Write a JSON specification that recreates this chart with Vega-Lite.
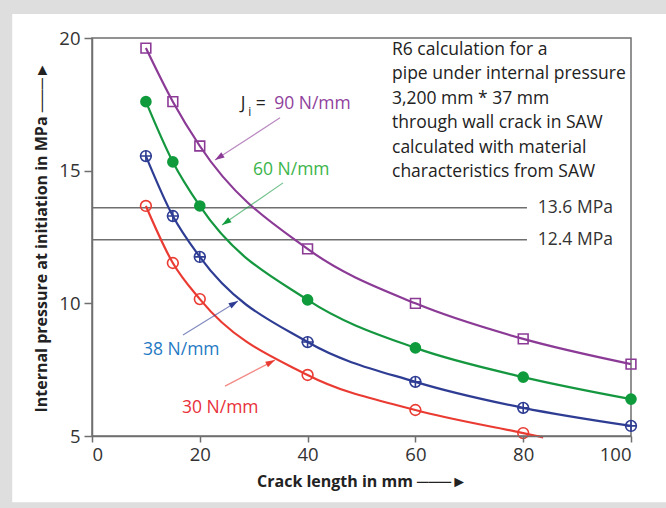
{
  "$schema": "https://vega.github.io/schema/vega-lite/v6.json",
  "autosize": {"type": "none"},
  "width": 539,
  "height": 398,
  "padding": {"left": 92, "top": 38, "right": 35, "bottom": 72},
  "background": "#dedede",
  "config": {
    "background": "#dedede",
    "font": "Open Sans",
    "view": {"stroke": null},
    "axis": {
      "zindex": 1,
      "grid": false,
      "domainColor": "#6f6f6f",
      "domainWidth": 1.5,
      "tickColor": "#6f6f6f",
      "tickWidth": 1.5,
      "labelFont": "Open Sans",
      "labelFontSize": 18.5,
      "labelColor": "#333333",
      "titleFont": "Open Sans",
      "titleFontWeight": "bold",
      "titleFontSize": 16,
      "titleColor": "#222222"
    }
  },
  "datasets": {
    "one": [{"k": 1}],
    "curves": [
      {"series": "90", "x": 10, "y": 19.62}, {"series": "90", "x": 15, "y": 17.6}, {"series": "90", "x": 20, "y": 15.93}, {"series": "90", "x": 40, "y": 12.05}, {"series": "90", "x": 60, "y": 10.0}, {"series": "90", "x": 80, "y": 8.66}, {"series": "90", "x": 100, "y": 7.71},
      {"series": "60", "x": 10, "y": 17.6}, {"series": "60", "x": 15, "y": 15.33}, {"series": "60", "x": 20, "y": 13.67}, {"series": "60", "x": 40, "y": 10.13}, {"series": "60", "x": 60, "y": 8.32}, {"series": "60", "x": 80, "y": 7.22}, {"series": "60", "x": 100, "y": 6.39},
      {"series": "38", "x": 10, "y": 15.55}, {"series": "38", "x": 15, "y": 13.29}, {"series": "38", "x": 20, "y": 11.75}, {"series": "38", "x": 40, "y": 8.54}, {"series": "38", "x": 60, "y": 7.04}, {"series": "38", "x": 80, "y": 6.06}, {"series": "38", "x": 100, "y": 5.38},
      {"series": "30", "x": 10, "y": 13.67}, {"series": "30", "x": 15, "y": 11.52}, {"series": "30", "x": 20, "y": 10.16}, {"series": "30", "x": 40, "y": 7.3}, {"series": "30", "x": 60, "y": 5.98}, {"series": "30", "x": 80, "y": 5.11}, {"series": "30", "x": 83.7, "y": 4.95}
    ],
    "refs": [
      {"y": 13.6, "label": "13.6 MPa"},
      {"y": 12.4, "label": "12.4 MPa"}
    ],
    "labels": [
      {"series": "90", "x": 33.8, "y": 17.51, "text": "90 N/mm"},
      {"series": "60", "x": 29.87, "y": 15.03, "text": "60 N/mm"},
      {"series": "38", "x": 9.46, "y": 8.24, "text": "38 N/mm"},
      {"series": "30", "x": 16.7, "y": 6.06, "text": "30 N/mm"}
    ],
    "arrows": [
      {"series": "90", "x": 34.88, "y": 16.99, "x2": 22.82, "y2": 15.4, "angle": 237},
      {"series": "60", "x": 35.44, "y": 14.54, "x2": 24.12, "y2": 12.95, "angle": 235.5},
      {"series": "38", "x": 16.88, "y": 8.81, "x2": 27.09, "y2": 10.09, "angle": 58.3},
      {"series": "30", "x": 24.68, "y": 6.88, "x2": 33.95, "y2": 7.86, "angle": 62.5}
    ]
  },
  "layer": [
    {
      "data": {"name": "one"},
      "mark": {"type": "rect", "fill": "#ffffff", "clip": false},
      "encoding": {
        "x": {"datum": -14.8, "type": "quantitative", "scale": {"domain": [0, 100], "nice": false, "zero": false}, "axis": {"zindex": 2, "values": [0, 20, 40, 60, 80, 100], "tickSize": 6, "labelPadding": 3, "title": "Crack length in mm   ───►", "titlePadding": 10}},
        "x2": {"datum": 107},
        "y": {"datum": 20.9, "type": "quantitative", "scale": {"domain": [5, 20], "nice": false, "zero": false}, "axis": {"zindex": 2, "values": [5, 10, 15, 20], "tickSize": 8, "labelPadding": 4, "title": "Internal pressure at initiation in MPa   ───►", "titlePadding": 9}},
        "y2": {"datum": 2.5}
      }
    },
    {
      "data": {"name": "one"},
      "mark": {"type": "rect", "fill": null, "fillOpacity": 0, "stroke": "#6f6f6f", "strokeWidth": 1.5},
      "encoding": {
        "x": {"datum": 0, "type": "quantitative"},
        "x2": {"datum": 100},
        "y": {"datum": 20, "type": "quantitative"},
        "y2": {"datum": 5}
      }
    },
    {
      "data": {"name": "refs"},
      "mark": {"type": "rule", "color": "#6f6f6f", "strokeWidth": 1.5},
      "encoding": {
        "x": {"datum": 0, "type": "quantitative"},
        "x2": {"datum": 80.7},
        "y": {"field": "y", "type": "quantitative"}
      }
    },
    {
      "data": {"name": "refs"},
      "mark": {"type": "text", "align": "left", "baseline": "middle", "fontSize": 17.5, "color": "#333333", "clip": false},
      "encoding": {
        "x": {"datum": 82.7, "type": "quantitative"},
        "y": {"field": "y", "type": "quantitative"},
        "text": {"field": "label"}
      }
    },
    {
      "data": {"name": "curves"},
      "mark": {"type": "line", "interpolate": "monotone", "strokeWidth": 2.2, "clip": false},
      "encoding": {
        "x": {"field": "x", "type": "quantitative"},
        "y": {"field": "y", "type": "quantitative"},
        "detail": {"field": "series"},
        "stroke": {"field": "series", "type": "nominal", "scale": {"domain": ["90", "60", "38", "30"], "range": ["#8b3a96", "#14973f", "#2e3d93", "#ea3b33"]}, "legend": null}
      }
    },
    {
      "data": {"name": "curves"},
      "transform": [{"filter": "datum.series == '90'"}],
      "mark": {"type": "point", "shape": "square", "size": 95, "filled": false, "strokeWidth": 1.6, "opacity": 1},
      "encoding": {
        "x": {"field": "x", "type": "quantitative"},
        "y": {"field": "y", "type": "quantitative"},
        "stroke": {"field": "series", "type": "nominal", "legend": null}
      }
    },
    {
      "data": {"name": "curves"},
      "transform": [{"filter": "datum.series == '60'"}],
      "mark": {"type": "point", "shape": "circle", "size": 135, "filled": true, "opacity": 1},
      "encoding": {
        "x": {"field": "x", "type": "quantitative"},
        "y": {"field": "y", "type": "quantitative"},
        "color": {"field": "series", "type": "nominal", "scale": {"domain": ["90", "60", "38", "30"], "range": ["#8b3a96", "#0f9a3c", "#2e3d93", "#ea3b33"]}, "legend": null}
      }
    },
    {
      "data": {"name": "curves"},
      "transform": [{"filter": "(datum.series == '38' || datum.series == '30') && datum.y >= 5"}],
      "mark": {"type": "point", "shape": "circle", "size": 115, "filled": false, "strokeWidth": 1.6, "opacity": 1},
      "encoding": {
        "x": {"field": "x", "type": "quantitative"},
        "y": {"field": "y", "type": "quantitative"},
        "stroke": {"field": "series", "type": "nominal", "legend": null}
      }
    },
    {
      "data": {"name": "curves"},
      "transform": [{"filter": "datum.series == '38'"}],
      "mark": {"type": "point", "shape": "M-1,0L1,0M0,-1L0,1", "size": 140, "filled": false, "strokeWidth": 1.6, "opacity": 1},
      "encoding": {
        "x": {"field": "x", "type": "quantitative"},
        "y": {"field": "y", "type": "quantitative"},
        "stroke": {"field": "series", "type": "nominal", "legend": null}
      }
    },
    {
      "data": {"name": "arrows"},
      "mark": {"type": "rule", "strokeWidth": 1.2, "opacity": 0.6},
      "encoding": {
        "x": {"field": "x", "type": "quantitative"},
        "y": {"field": "y", "type": "quantitative"},
        "x2": {"field": "x2"},
        "y2": {"field": "y2"},
        "stroke": {"field": "series", "type": "nominal", "legend": null}
      }
    },
    {
      "data": {"name": "arrows"},
      "mark": {"type": "point", "shape": "M0,0L-0.32,1L0.32,1Z", "size": 360, "filled": true, "opacity": 1},
      "encoding": {
        "x": {"field": "x2", "type": "quantitative"},
        "y": {"field": "y2", "type": "quantitative"},
        "angle": {"field": "angle", "type": "quantitative", "scale": null},
        "color": {"field": "series", "type": "nominal", "legend": null}
      }
    },
    {
      "data": {"name": "labels"},
      "mark": {"type": "text", "align": "left", "baseline": "middle", "fontSize": 17.5},
      "encoding": {
        "x": {"field": "x", "type": "quantitative"},
        "y": {"field": "y", "type": "quantitative"},
        "text": {"field": "text"},
        "fill": {"field": "series", "type": "nominal", "scale": {"domain": ["90", "60", "38", "30"], "range": ["#8f3f9c", "#3bb54a", "#1f7ac4", "#e8303a"]}, "legend": null}
      }
    },
    {
      "data": {"name": "one"},
      "mark": {"type": "text", "align": "left", "baseline": "middle", "fontSize": 17.5, "color": "#222222"},
      "encoding": {
        "x": {"datum": 27.6, "type": "quantitative"},
        "y": {"datum": 17.51, "type": "quantitative"},
        "text": {"value": "J"}
      }
    },
    {
      "data": {"name": "one"},
      "mark": {"type": "text", "align": "left", "baseline": "middle", "fontSize": 12, "color": "#222222"},
      "encoding": {
        "x": {"datum": 29.0, "type": "quantitative"},
        "y": {"datum": 17.22, "type": "quantitative"},
        "text": {"value": "i"}
      }
    },
    {
      "data": {"name": "one"},
      "mark": {"type": "text", "align": "left", "baseline": "middle", "fontSize": 17.5, "color": "#222222"},
      "encoding": {
        "x": {"datum": 30.4, "type": "quantitative"},
        "y": {"datum": 17.51, "type": "quantitative"},
        "text": {"value": "="}
      }
    },
    {
      "data": {"name": "one"},
      "mark": {"type": "text", "align": "left", "baseline": "middle", "fontSize": 17.5, "lineHeight": 24.5, "color": "#222222"},
      "encoding": {
        "x": {"datum": 55.66, "type": "quantitative"},
        "y": {"datum": 19.55, "type": "quantitative"},
        "text": {"value": ["R6 calculation for a", "pipe under internal pressure", "3,200 mm * 37 mm", "through wall crack in SAW", "calculated with material", "characteristics from SAW"]}
      }
    }
  ]
}
